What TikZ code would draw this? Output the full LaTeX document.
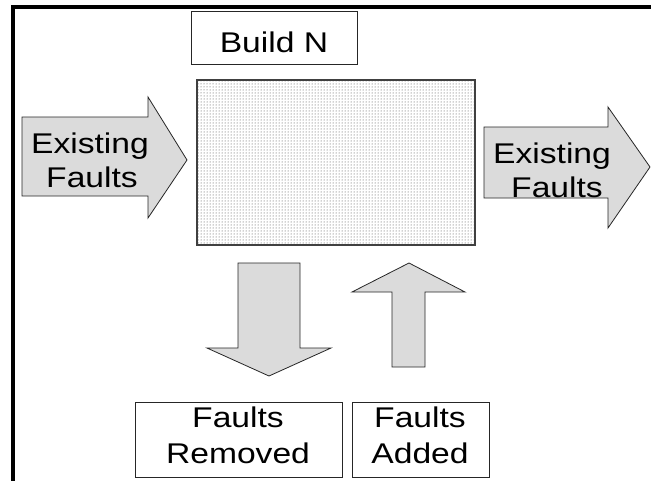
\documentclass[tikz,border=0pt]{standalone}
\usepackage{fontspec}
\setmainfont{Liberation Sans}
\usetikzlibrary{patterns}
\newcommand{\sxt}[1]{\scalebox{1.18}[1]{#1}}
\tikzset{
  txt/.style={inner sep=0pt, anchor=base, font=\fontsize{28.5}{34}\selectfont},
  bigarrow/.style={draw=black!85, line width=0.8pt, fill=black!14, line join=miter},
  lblbox/.style={draw=black!85, line width=0.8pt, fill=white},
}
\begin{document}
\begin{tikzpicture}[x=1pt,y=-1pt]
\useasboundingbox (0,0) rectangle (651,480);
\fill[white] (0,0) rectangle (651,480);
% frame
\draw[line width=4pt] (13,485) -- (13,7) -- (656,7);
% build box
\draw[lblbox] (191,11) rectangle (357,64);
\node[txt] (build) at (274,52) {\sxt{Build N}};
% dotted process box
\fill[white] (197,80) rectangle (475,245);
\fill[pattern=dots, pattern color=black!75] (197,80) rectangle (475,245);
\draw[draw=black!75, line width=1.6pt] (197,80) rectangle (475,245);
% left arrow
\draw[bigarrow] (22,117) -- (148,117) -- (148,97) -- (187,160) -- (148,218) -- (148,196) -- (22,196) -- cycle;
\node[txt] (le1) at (90,153) {\sxt{Existing}};
\node[txt] (le2) at (92,187) {\sxt{Faults}};
% right arrow
\draw[bigarrow] (484,127) -- (608,127) -- (608,107) -- (650,167) -- (608,228) -- (608,198) -- (484,198) -- cycle;
\node[txt] (re1) at (552,163) {\sxt{Existing}};
\node[txt] (re2) at (557,197) {\sxt{Faults}};
% down arrow
\draw[bigarrow] (238,263) -- (300,263) -- (300,348) -- (331,348) -- (269,376) -- (207,348) -- (238,348) -- cycle;
% up arrow
\draw[bigarrow] (392,367) -- (425,367) -- (425,292) -- (465,292) -- (409,263) -- (352,292) -- (392,292) -- cycle;
% bottom boxes
\draw[lblbox] (135,402) rectangle (342,477);
\node[txt] (fr1) at (238,427) {\sxt{Faults}};
\node[txt] (fr2) at (238,463) {\sxt{Removed}};
\draw[lblbox] (352,402) rectangle (489,477);
\node[txt] (fa1) at (420,427) {\sxt{Faults}};
\node[txt] (fa2) at (420,463) {\sxt{Added}};
\end{tikzpicture}
\end{document}
